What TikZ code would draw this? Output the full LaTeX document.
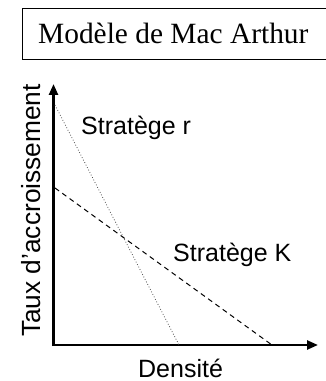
\documentclass[tikz,border=0pt]{standalone}
\usepackage{fontspec}
\setmainfont{Liberation Serif}
\setsansfont{Liberation Sans}
\usetikzlibrary{arrows.meta}
\begin{document}
\begin{tikzpicture}[x=1pt,y=1pt,
  lbl/.style={inner sep=0pt,font=\sffamily\fontsize{25}{25}\selectfont},
  axis/.style={line width=2.4pt,-{Triangle[length=11pt,width=9pt]}},
  rline/.style={line width=0.8pt,dotted,black!70},
  kline/.style={line width=1pt,dash pattern=on 5pt off 4pt}]
\useasboundingbox (0,0) rectangle (325,381);
% title box
\draw[line width=1pt] (22,381-60) rectangle (330,381-9);
\node[inner sep=0pt,anchor=base west,font=\rmfamily\fontsize{29.4}{29.4}\selectfont] (title) at (38,381-43.5) {Modèle de Mac Arthur};
% axes
\coordinate (O) at (53.5,381-345);
\coordinate (Ytip) at (53.5,381-84);
\coordinate (Xtip) at (318,381-345);
\draw[axis] (O) ++(0,-1.2) -- (Ytip);
\draw[axis] (O) ++(-1.2,0) -- (Xtip);
% strategy lines
\coordinate (r1) at (55,381-105);
\coordinate (r2) at (179,381-345);
\coordinate (k1) at (55,381-188);
\coordinate (k2) at (272,381-345);
\draw[rline] (r1) -- (r2);
\draw[kline] (k1) -- (k2);
% labels
\node[lbl,anchor=base west] (sr) at (81,381-135) {Stratège r};
\node[lbl,anchor=base west] (sk) at (173,381-262) {Stratège K};
\node[lbl,anchor=base west] (dens) at (138,381-377) {Densité};
\node[lbl,anchor=base,rotate=90,font=\sffamily\fontsize{26.3}{26.3}\selectfont] (taux) at (40,381-210.5) {Taux d'accroissement};
\end{tikzpicture}
\end{document}
